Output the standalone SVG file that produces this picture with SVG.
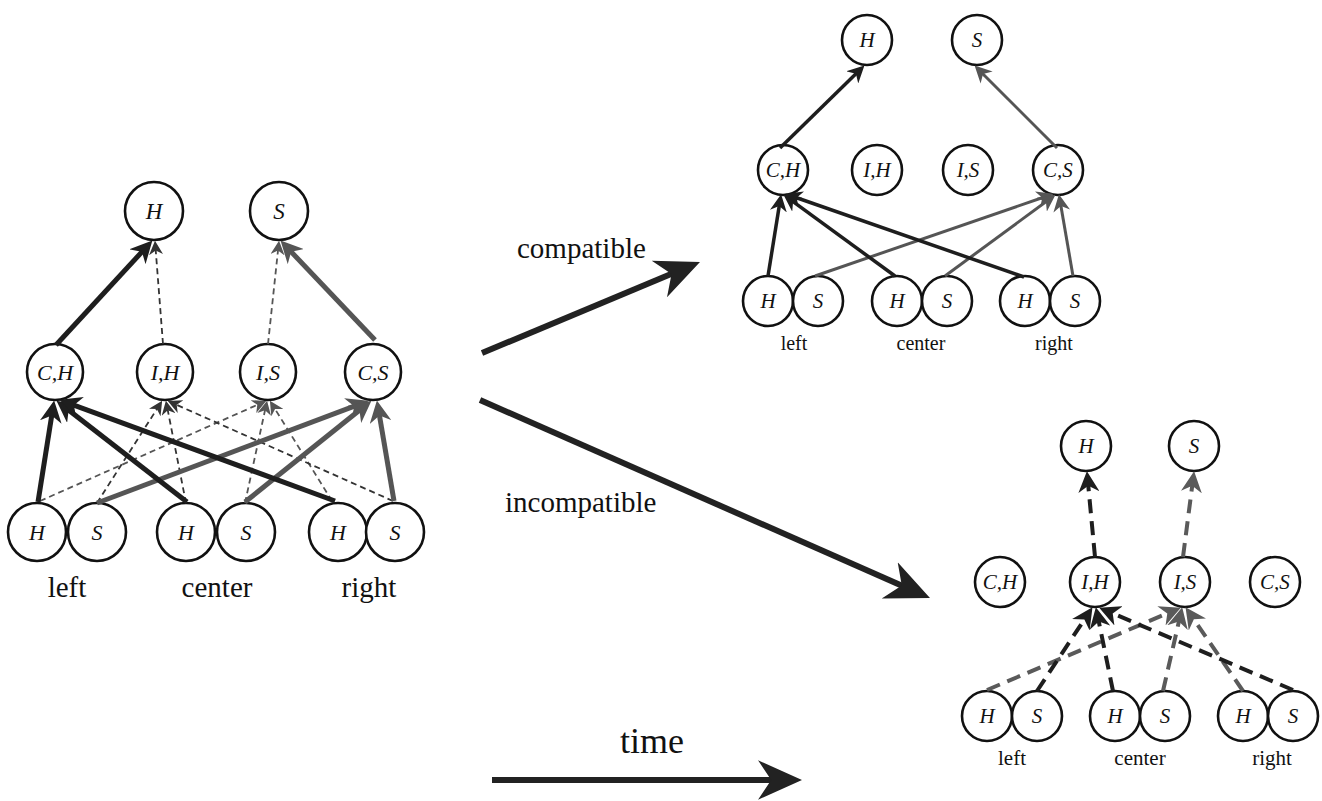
<svg xmlns="http://www.w3.org/2000/svg" width="1322" height="801" viewBox="0 0 1322 801">
<style>
  .n { fill: #fff; stroke: #111; stroke-width: 2.6; }
  .nt { font-family: "Liberation Serif", "Times New Roman", serif; font-style: italic; fill: #111; text-anchor: middle; }
  .lbl { font-family: "Liberation Serif", "Times New Roman", serif; fill: #111; text-anchor: middle; }
  .cap { font-family: "Liberation Serif", "Times New Roman", serif; fill: #111; }
  .e { fill: none; stroke-linecap: butt; }
  .k5 { stroke: #1e1e1e; stroke-width: 5; }
  .g5 { stroke: #555; stroke-width: 5; }
  .kd { stroke: #333; stroke-width: 1.8; stroke-dasharray: 6 4; }
  .gd { stroke: #555; stroke-width: 1.8; stroke-dasharray: 6 4; }
  .k3 { stroke: #1e1e1e; stroke-width: 3.5; }
  .g3 { stroke: #555; stroke-width: 3; }
  .kD { stroke: #1e1e1e; stroke-width: 4; stroke-dasharray: 14 8; }
  .gD { stroke: #5a5a5a; stroke-width: 4; stroke-dasharray: 14 8; }
  .big { stroke: #222; stroke-width: 6; }
</style>
<defs>
  <marker id="mLk" viewBox="0 0 20 20" refX="14" refY="10" markerWidth="22" markerHeight="22" markerUnits="userSpaceOnUse" orient="auto"><path d="M0,0 L20,10 L0,20 L6,10 z" fill="#1e1e1e"/></marker>
  <marker id="mLg" viewBox="0 0 20 20" refX="14" refY="10" markerWidth="22" markerHeight="22" markerUnits="userSpaceOnUse" orient="auto"><path d="M0,0 L20,10 L0,20 L6,10 z" fill="#555"/></marker>
  <marker id="mSk" viewBox="0 0 20 20" refX="14" refY="10" markerWidth="14" markerHeight="14" markerUnits="userSpaceOnUse" orient="auto"><path d="M0,0 L20,10 L0,20 L6,10 z" fill="#333"/></marker>
  <marker id="mSg" viewBox="0 0 20 20" refX="14" refY="10" markerWidth="14" markerHeight="14" markerUnits="userSpaceOnUse" orient="auto"><path d="M0,0 L20,10 L0,20 L6,10 z" fill="#555"/></marker>
  <marker id="mTk" viewBox="0 0 20 20" refX="14" refY="10" markerWidth="17" markerHeight="17" markerUnits="userSpaceOnUse" orient="auto"><path d="M0,0 L20,10 L0,20 L6,10 z" fill="#1e1e1e"/></marker>
  <marker id="mTg" viewBox="0 0 20 20" refX="14" refY="10" markerWidth="17" markerHeight="17" markerUnits="userSpaceOnUse" orient="auto"><path d="M0,0 L20,10 L0,20 L6,10 z" fill="#555"/></marker>
  <marker id="mBk" viewBox="0 0 20 20" refX="14" refY="10" markerWidth="21" markerHeight="21" markerUnits="userSpaceOnUse" orient="auto"><path d="M0,0 L20,10 L0,20 L6,10 z" fill="#1e1e1e"/></marker>
  <marker id="mBg" viewBox="0 0 20 20" refX="14" refY="10" markerWidth="21" markerHeight="21" markerUnits="userSpaceOnUse" orient="auto"><path d="M0,0 L20,10 L0,20 L6,10 z" fill="#5a5a5a"/></marker>
  <marker id="mHuge" viewBox="0 0 20 20" refX="14" refY="10" markerWidth="44" markerHeight="44" markerUnits="userSpaceOnUse" orient="auto"><path d="M0,1 L20,10 L0,19 L6,10 z" fill="#222"/></marker>
</defs>

<!-- Left network nodes -->
<g id="L-H"><circle class="n" cx="154" cy="211" r="29"/><text class="nt" x="154" y="219" font-size="23">H</text></g>
<g id="L-S"><circle class="n" cx="279" cy="211" r="29"/><text class="nt" x="279" y="219" font-size="23">S</text></g>
<g id="L-CH"><circle class="n" cx="55" cy="372" r="28"/><text class="nt" x="55" y="380" font-size="22">C,H</text></g>
<g id="L-IH"><circle class="n" cx="165" cy="372" r="28"/><text class="nt" x="165" y="380" font-size="22">I,H</text></g>
<g id="L-IS"><circle class="n" cx="268" cy="372" r="28"/><text class="nt" x="268" y="380" font-size="22">I,S</text></g>
<g id="L-CS"><circle class="n" cx="373" cy="372" r="28"/><text class="nt" x="373" y="380" font-size="22">C,S</text></g>
<g id="L-HL"><circle class="n" cx="37" cy="532" r="29"/><text class="nt" x="37" y="540" font-size="22">H</text></g>
<g id="L-SL"><circle class="n" cx="97" cy="532" r="29"/><text class="nt" x="97" y="540" font-size="22">S</text></g>
<g id="L-HC"><circle class="n" cx="186" cy="532" r="29"/><text class="nt" x="186" y="540" font-size="22">H</text></g>
<g id="L-SC"><circle class="n" cx="246" cy="532" r="29"/><text class="nt" x="246" y="540" font-size="22">S</text></g>
<g id="L-HR"><circle class="n" cx="338" cy="532" r="29"/><text class="nt" x="338" y="540" font-size="22">H</text></g>
<g id="L-SR"><circle class="n" cx="395" cy="532" r="29"/><text class="nt" x="395" y="540" font-size="22">S</text></g>
<g id="L-labels">
  <text class="lbl" x="67" y="597" font-size="29">left</text>
  <text class="lbl" x="217" y="597" font-size="29">center</text>
  <text class="lbl" x="369" y="597" font-size="29">right</text>
</g>

<!-- Top-right (compatible) nodes -->
<g id="T-H"><circle class="n" cx="867" cy="40" r="25"/><text class="nt" x="867" y="47" font-size="21">H</text></g>
<g id="T-S"><circle class="n" cx="977" cy="40" r="25"/><text class="nt" x="977" y="47" font-size="21">S</text></g>
<g id="T-CH"><circle class="n" cx="783" cy="170" r="25"/><text class="nt" x="783" y="177" font-size="21">C,H</text></g>
<g id="T-IH"><circle class="n" cx="877" cy="170" r="25"/><text class="nt" x="877" y="177" font-size="21">I,H</text></g>
<g id="T-IS"><circle class="n" cx="968" cy="170" r="25"/><text class="nt" x="968" y="177" font-size="21">I,S</text></g>
<g id="T-CS"><circle class="n" cx="1058" cy="170" r="25"/><text class="nt" x="1058" y="177" font-size="21">C,S</text></g>
<g id="T-HL"><circle class="n" cx="768" cy="301" r="25"/><text class="nt" x="768" y="308" font-size="21">H</text></g>
<g id="T-SL"><circle class="n" cx="818" cy="301" r="25"/><text class="nt" x="818" y="308" font-size="21">S</text></g>
<g id="T-HC"><circle class="n" cx="897" cy="301" r="25"/><text class="nt" x="897" y="308" font-size="21">H</text></g>
<g id="T-SC"><circle class="n" cx="947" cy="301" r="25"/><text class="nt" x="947" y="308" font-size="21">S</text></g>
<g id="T-HR"><circle class="n" cx="1025" cy="301" r="25"/><text class="nt" x="1025" y="308" font-size="21">H</text></g>
<g id="T-SR"><circle class="n" cx="1075" cy="301" r="25"/><text class="nt" x="1075" y="308" font-size="21">S</text></g>
<g id="T-labels">
  <text class="lbl" x="794" y="350" font-size="20">left</text>
  <text class="lbl" x="921" y="350" font-size="20">center</text>
  <text class="lbl" x="1054" y="350" font-size="20">right</text>
</g>

<!-- Bottom-right (incompatible) nodes -->
<g id="B-H"><circle class="n" cx="1086" cy="446" r="25"/><text class="nt" x="1086" y="453" font-size="21">H</text></g>
<g id="B-S"><circle class="n" cx="1194" cy="446" r="25"/><text class="nt" x="1194" y="453" font-size="21">S</text></g>
<g id="B-CH"><circle class="n" cx="1000" cy="582" r="25"/><text class="nt" x="1000" y="589" font-size="21">C,H</text></g>
<g id="B-IH"><circle class="n" cx="1095" cy="582" r="25"/><text class="nt" x="1095" y="589" font-size="21">I,H</text></g>
<g id="B-IS"><circle class="n" cx="1185" cy="582" r="25"/><text class="nt" x="1185" y="589" font-size="21">I,S</text></g>
<g id="B-CS"><circle class="n" cx="1275" cy="582" r="25"/><text class="nt" x="1275" y="589" font-size="21">C,S</text></g>
<g id="B-HL"><circle class="n" cx="987" cy="716" r="25"/><text class="nt" x="987" y="723" font-size="21">H</text></g>
<g id="B-SL"><circle class="n" cx="1037" cy="716" r="25"/><text class="nt" x="1037" y="723" font-size="21">S</text></g>
<g id="B-HC"><circle class="n" cx="1115" cy="716" r="25"/><text class="nt" x="1115" y="723" font-size="21">H</text></g>
<g id="B-SC"><circle class="n" cx="1165" cy="716" r="25"/><text class="nt" x="1165" y="723" font-size="21">S</text></g>
<g id="B-HR"><circle class="n" cx="1243" cy="716" r="25"/><text class="nt" x="1243" y="723" font-size="21">H</text></g>
<g id="B-SR"><circle class="n" cx="1293" cy="716" r="25"/><text class="nt" x="1293" y="723" font-size="21">S</text></g>
<g id="B-labels">
  <text class="lbl" x="1012" y="765" font-size="21">left</text>
  <text class="lbl" x="1140" y="765" font-size="21">center</text>
  <text class="lbl" x="1272" y="765" font-size="21">right</text>
</g>

<!-- Captions -->
<g id="captions">
  <text class="cap" x="517" y="258" font-size="29">compatible</text>
  <text class="cap" x="505" y="512" font-size="29">incompatible</text>
  <text class="cap" x="620" y="753" font-size="36">time</text>
</g>

<g id="connectors">
  <!-- left network -->
  <line class="e k5" x1="56" y1="345" x2="147.9" y2="245.4" marker-end="url(#mLk)"/>
  <line class="e g5" x1="375" y1="340" x2="285.1" y2="245.4" marker-end="url(#mLg)"/>
  <line class="e kd" x1="163" y1="344" x2="155.3" y2="244.9" marker-end="url(#mSk)"/>
  <line class="e gd" x1="268" y1="344" x2="278.6" y2="244.9" marker-end="url(#mSg)"/>
  <line class="e gd" x1="40" y1="501" x2="262.4" y2="402.6" marker-end="url(#mSg)"/>
  <line class="e kd" x1="97" y1="503" x2="159.9" y2="404.3" marker-end="url(#mSk)"/>
  <line class="e kd" x1="186" y1="503" x2="166.7" y2="404.8" marker-end="url(#mSk)"/>
  <line class="e gd" x1="245" y1="503" x2="266.2" y2="404.8" marker-end="url(#mSg)"/>
  <line class="e gd" x1="332" y1="501" x2="272.1" y2="404.3" marker-end="url(#mSg)"/>
  <line class="e kd" x1="393" y1="501" x2="171.6" y2="402.6" marker-end="url(#mSk)"/>
  <line class="e g5" x1="97" y1="503" x2="362.4" y2="403.1" marker-end="url(#mLg)"/>
  <line class="e g5" x1="245" y1="502" x2="366.3" y2="404.8" marker-end="url(#mLg)"/>
  <line class="e g5" x1="394" y1="501" x2="378" y2="406.9" marker-end="url(#mLg)"/>
  <line class="e k5" x1="38" y1="502" x2="53.1" y2="406.9" marker-end="url(#mLk)"/>
  <line class="e k5" x1="187" y1="502" x2="61.7" y2="404.7" marker-end="url(#mLk)"/>
  <line class="e k5" x1="335" y1="501" x2="65.6" y2="402.1" marker-end="url(#mLk)"/>

  <!-- transition arrows -->
  <line class="e big" x1="482" y1="353" x2="687.8" y2="267.1" marker-end="url(#mHuge)"/>
  <line class="e big" x1="480" y1="400" x2="917.9" y2="592.7" marker-end="url(#mHuge)"/>
  <line class="e big" x1="492" y1="780" x2="788.8" y2="780" marker-end="url(#mHuge)"/>

  <!-- top-right network -->
  <line class="e k3" x1="780" y1="148" x2="860.8" y2="69.1" marker-end="url(#mTk)"/>
  <line class="e g3" x1="1057" y1="148" x2="978.2" y2="69.2" marker-end="url(#mTg)"/>
  <line class="e g3" x1="815" y1="276" x2="1048.7" y2="195.5" marker-end="url(#mTg)"/>
  <line class="e g3" x1="945" y1="276" x2="1051.4" y2="197.7" marker-end="url(#mTg)"/>
  <line class="e g3" x1="1073" y1="276" x2="1059.8" y2="199.4" marker-end="url(#mTg)"/>
  <line class="e k3" x1="768" y1="276" x2="780.3" y2="199.4" marker-end="url(#mTk)"/>
  <line class="e k3" x1="895" y1="276" x2="787.6" y2="197.7" marker-end="url(#mTk)"/>
  <line class="e k3" x1="1024" y1="277" x2="790.2" y2="195.5" marker-end="url(#mTk)"/>

  <!-- bottom-right network -->
  <line class="e kD" x1="1095" y1="557" x2="1087.5" y2="477.4" marker-end="url(#mBk)"/>
  <line class="e gD" x1="1183" y1="557" x2="1193.3" y2="477.4" marker-end="url(#mBg)"/>
  <line class="e gD" x1="987" y1="690" x2="1175" y2="610.1" marker-end="url(#mBg)"/>
  <line class="e gD" x1="1163" y1="691" x2="1180.8" y2="613.3" marker-end="url(#mBg)"/>
  <line class="e gD" x1="1243" y1="691" x2="1189.1" y2="612.4" marker-end="url(#mBg)"/>
  <line class="e kD" x1="1037" y1="691" x2="1089" y2="612.5" marker-end="url(#mBk)"/>
  <line class="e kD" x1="1113" y1="691" x2="1097.1" y2="613.3" marker-end="url(#mBk)"/>
  <line class="e kD" x1="1293" y1="690" x2="1105" y2="610.1" marker-end="url(#mBk)"/>
</g>
</svg>
